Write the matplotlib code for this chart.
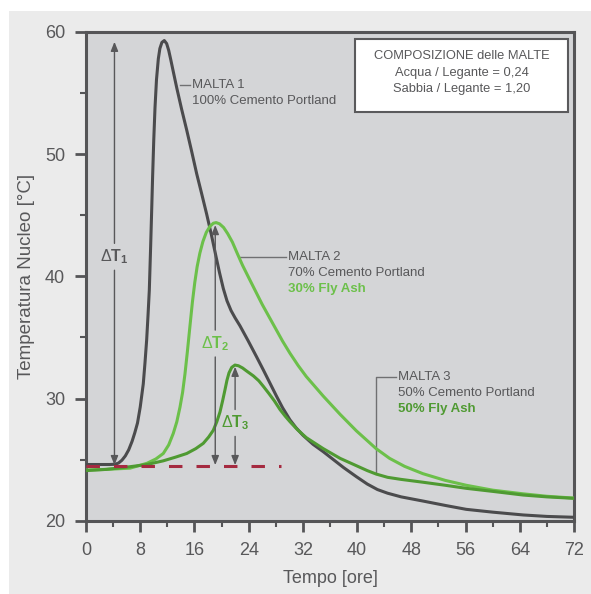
import matplotlib
matplotlib.use("Agg")
import matplotlib.pyplot as plt
from matplotlib.patches import Rectangle
from matplotlib.ticker import MultipleLocator

# font
plt.rcParams['font.family'] = ['Liberation Sans', 'DejaVu Sans']
plt.rcParams['mathtext.fontset'] = 'custom'
plt.rcParams['mathtext.rm'] = 'Liberation Sans'
plt.rcParams['mathtext.bf'] = 'Liberation Sans:bold'
plt.rcParams['mathtext.it'] = 'Liberation Sans:italic'

# MALTA 1 - 100% cemento Portland
ore_1 = [0, 3.5, 4.3, 4.8, 5.3, 5.8, 6.3, 6.8, 7.2, 7.6, 8.0, 8.45, 8.7, 8.95, 9.15,
         9.34, 9.54, 9.7, 9.83, 10.0, 10.18, 10.4, 10.67, 10.9, 11.2, 11.55, 11.9,
         12.2, 12.5, 12.9, 13.4, 14.1, 14.86, 15.6, 16.33, 17.05, 17.8, 18.5, 19.19,
         19.7, 20.26, 20.8, 21.4, 22.0, 22.72, 23.9, 25.18, 26.2, 27.15, 28.1, 29.0,
         30.1, 31.0, 32.0, 33.5, 35.0, 36.5, 38.0, 39.9, 41.5, 43.0, 44.5, 46.5, 49.8,
         53.0, 56.1, 60.0, 64.5, 68.0, 72.0]
temp_1 = [24.6, 24.6, 24.62, 24.72, 24.95, 25.3, 25.8, 26.5, 27.2, 28.0, 29.3, 31.2,
          32.9, 34.8, 36.8, 38.85, 42.5, 45.6, 48.2, 51.2, 53.8, 56.1, 57.8, 58.65,
          59.15, 59.3, 59.05, 58.5, 57.75, 56.7, 55.4, 53.7, 51.97, 50.2, 48.4, 46.8,
          45.1, 43.4, 41.6, 40.3, 39.0, 38.0, 37.2, 36.6, 35.95, 34.75, 33.4, 32.3,
          31.25, 30.2, 29.25, 28.25, 27.6, 27.0, 26.25, 25.65, 25.0, 24.35, 23.6, 23.0,
          22.55, 22.25, 21.95, 21.6, 21.25, 20.93, 20.7, 20.47, 20.35, 20.28]

# MALTA 2 - 70% cemento, 30% fly ash
ore_2 = [0, 3, 6.5, 9.0, 10.3, 11.4, 12.2, 12.88, 13.4, 13.87, 14.25, 14.6, 14.95,
         15.35, 15.7, 16.05, 16.4, 16.8, 17.25, 17.75, 18.3, 18.8, 19.2, 19.7, 20.3,
         20.9, 21.6, 22.3, 23.1, 24.0, 25.0, 26.0, 27.0, 28.0, 29.0, 30.1, 31.3, 32.5,
         35.0, 37.5, 39.9, 42.8, 44.8, 47.0, 49.7, 53.0, 56.1, 60.0, 64.5, 68.0, 72.0]
temp_2 = [24.15, 24.2, 24.3, 24.7, 25.05, 25.5, 26.2, 27.15, 28.1, 29.3, 30.5, 32.0,
          33.8, 36.0, 37.9, 39.5, 40.8, 41.9, 42.85, 43.6, 44.1, 44.35, 44.4, 44.3,
          44.0, 43.5, 42.8, 41.9, 40.9, 39.9, 38.8, 37.7, 36.7, 35.7, 34.7, 33.7, 32.7,
          31.8, 30.2, 28.7, 27.35, 25.9, 25.1, 24.45, 23.85, 23.3, 22.9, 22.5, 22.2,
          22.0, 21.85]

# MALTA 3 - 50% cemento, 50% fly ash
ore_3 = [0, 3, 6.5, 9.0, 11.4, 13.2, 14.86, 16.2, 17.3, 18.1, 18.78, 19.3, 19.77,
         20.15, 20.5, 20.8, 21.1, 21.5, 21.98, 22.5, 23.1, 23.7, 24.7, 25.5, 26.16,
         27.0, 27.8, 28.62, 29.4, 30.1, 31.2, 32.5, 35.0, 37.5, 39.9, 41.5, 42.8, 44.5,
         46.5, 49.7, 53.0, 56.1, 60.0, 64.5, 68.0, 72.0]
temp_3 = [24.1, 24.2, 24.42, 24.6, 24.9, 25.2, 25.5, 25.9, 26.33, 26.85, 27.4, 28.1,
          28.9, 29.8, 30.7, 31.5, 32.1, 32.55, 32.74, 32.68, 32.5, 32.25, 31.85, 31.45,
          31.0, 30.4, 29.8, 29.1, 28.55, 28.1, 27.45, 26.8, 25.9, 25.1, 24.5, 24.1,
          23.82, 23.55, 23.38, 23.15, 22.9, 22.65, 22.4, 22.1, 21.95, 21.83]

# temperatura iniziale di riferimento
temp_iniziale = 24.5
ore_rif = [0, 28.8]

# delta T: ora, picco, posizione etichetta
delta_ore = [4.2, 19.07, 22.0]
delta_picco = [59.2, 44.2, 32.6]
delta_label = [41.6, 34.5, 28.0]
delta_testo = [r'$\Delta\mathbf{T}_{\mathbf{1}}$', r'$\Delta\mathbf{T}_{\mathbf{2}}$',
               r'$\Delta\mathbf{T}_{\mathbf{3}}$']

grigio = '#4b4b4d'
verde_chiaro = '#6cc04a'
verde_scuro = '#4f9a32'
testo = '#58585a'

fig = plt.figure(figsize=(5.91, 5.94), dpi=100, facecolor='white')
fig.patches.append(Rectangle((9 / 591, 0), 1, 1 - 11 / 594, transform=fig.transFigure,
                             facecolor='#ebebeb', edgecolor='none', zorder=-10))

ax = fig.add_axes([86 / 591, 1 - 520.7 / 594, 488 / 591, 488.7 / 594])
ax.set_facecolor('#d4d5d7')

ax.plot(ore_1, temp_1, color=grigio, lw=2.2, zorder=3, solid_joinstyle='round')
ax.plot(ore_2, temp_2, color=verde_chiaro, lw=2.2, zorder=3, solid_joinstyle='round')
ax.plot(ore_3, temp_3, color=verde_scuro, lw=2.2, zorder=3, solid_joinstyle='round')

ax.plot(ore_rif, [temp_iniziale, temp_iniziale], color='#a52a40', lw=2.2,
        dashes=(4.4, 4.6), zorder=4)

# frecce dei delta T, interrotte dall'etichetta
colori_delta = [testo, verde_chiaro, verde_scuro]
for x, top, yl, lab, c in zip(delta_ore, delta_picco, delta_label, delta_testo, colori_delta):
    gap = 1.1
    aprops = dict(arrowstyle='-|>,head_length=0.55,head_width=0.22', color=testo,
                  lw=1.0, shrinkA=0, shrinkB=0, mutation_scale=10)
    ax.annotate('', xy=(x, top), xytext=(x, yl + gap), arrowprops=aprops, zorder=5)
    ax.annotate('', xy=(x, temp_iniziale + 0.05), xytext=(x, yl - gap),
                arrowprops=aprops, zorder=5)
    ax.text(x, yl, lab, color=c, fontsize=11.5, ha='center', va='center', zorder=6)

# etichette delle malte
fs = 9.5
ax.plot([13.87, 15.35], [55.65, 55.65], color='#707072', lw=1.0)
ax.text(15.6, 55.65, 'MALTA 1', color=testo, fontsize=fs, va='center')
ax.text(15.6, 54.35, '100% Cemento Portland', color=testo, fontsize=fs, va='center')

ax.plot([22.7, 29.5], [41.6, 41.6], color='#707072', lw=1.0)
ax.text(29.8, 41.6, 'MALTA 2', color=testo, fontsize=fs, va='center')
ax.text(29.8, 40.3, '70% Cemento Portland', color=testo, fontsize=fs, va='center')
ax.text(29.8, 39.0, '30% Fly Ash', color=verde_chiaro, fontsize=fs, va='center',
        fontweight='bold')

ax.plot([42.8, 42.8, 45.7], [23.82, 31.75, 31.75], color='#707072', lw=1.0)
ax.text(46.0, 31.75, 'MALTA 3', color=testo, fontsize=fs, va='center')
ax.text(46.0, 30.45, '50% Cemento Portland', color=testo, fontsize=fs, va='center')
ax.text(46.0, 29.15, '50% Fly Ash', color=verde_scuro, fontsize=fs, va='center',
        fontweight='bold')

# riquadro composizione
ax.add_patch(Rectangle((39.7, 53.45), 31.4, 5.95, facecolor='white',
                       edgecolor='#5a5a5c', lw=1.5, zorder=6))
ax.text(55.4, 58.0, 'COMPOSIZIONE delle MALTE', color=testo, fontsize=9.3,
        ha='center', va='center', zorder=7)
ax.text(55.4, 56.65, 'Acqua / Legante = 0,24', color=testo, fontsize=9.3,
        ha='center', va='center', zorder=7)
ax.text(55.4, 55.3, 'Sabbia / Legante = 1,20', color=testo, fontsize=9.3,
        ha='center', va='center', zorder=7)

# assi
ax.set_xlim(0, 72)
ax.set_ylim(20, 60)
ax.xaxis.set_major_locator(MultipleLocator(8))
ax.xaxis.set_minor_locator(MultipleLocator(4))
ax.yaxis.set_major_locator(MultipleLocator(10))
ax.yaxis.set_minor_locator(MultipleLocator(5))
ax.tick_params(which='major', direction='out', length=8, width=2, color='#555557',
               labelcolor=testo, labelsize=13, pad=7)
ax.tick_params(which='minor', direction='out', length=4.3, width=1.5, color='#555557')
ax.tick_params(top=False, right=False)
for s in ax.spines.values():
    s.set_color('#555557')
    s.set_linewidth(2.2)

ax.set_xlabel('Tempo [ore]', fontsize=13, color=testo)
ax.set_ylabel('Temperatura Nucleo [°C]', fontsize=13.5, color=testo)
ax.xaxis.set_label_coords(0.5, -0.101)
ax.yaxis.set_label_coords(-0.104, 0.5)

fig.savefig('out.png', dpi=100)
